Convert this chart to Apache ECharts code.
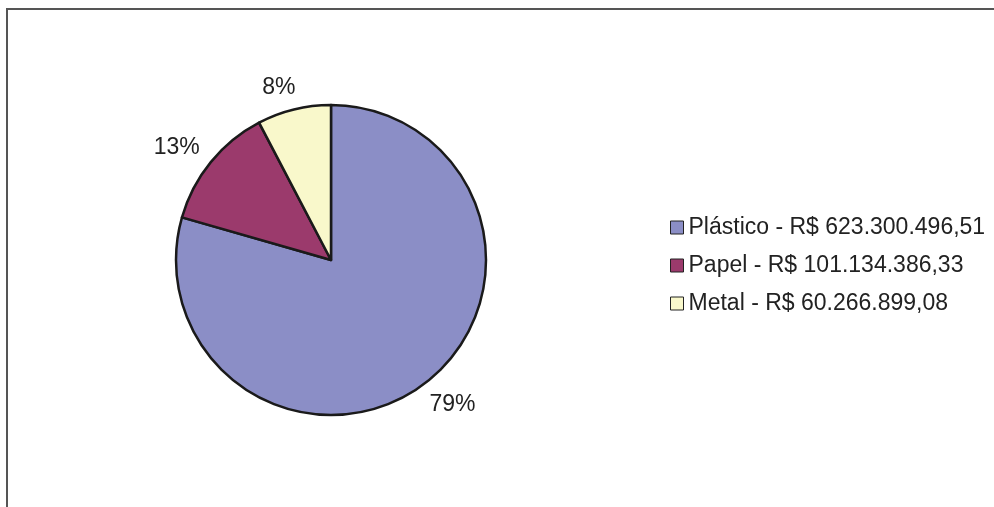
<!DOCTYPE html>
<html>
<head>
<meta charset="utf-8">
<script src="https://cdn.jsdelivr.net/npm/echarts@6/dist/echarts.min.js"></script>
<style>html,body{margin:0;padding:0;background:#fff}#c{width:994px;height:507px}</style>
</head>
<body>
<div id="c"></div>
<script>
const categories = ['Plástico', 'Papel', 'Metal'];
const valueLabels = ['R$ 623.300.496,51', 'R$ 101.134.386,33', 'R$ 60.266.899,08'];
const values = [623300496.51, 101134386.33, 60266899.08];
const colors = ['#8b8ec6', '#9b3a6c', '#f9f8cb'];

const data = categories.map((c, i) => ({ name: c, value: values[i], itemStyle: { color: colors[i] } }));
const labelMap = {};
categories.forEach((c, i) => { labelMap[c] = c + ' - ' + valueLabels[i]; });

const CX = 331, CY = 260, R = 155, GAP = 12.5, ANGLE_SHIFT = -3 * Math.PI / 180;
const total = values.reduce((a, b) => a + b, 0);
const midAngles = [];
(function () { let acc = 0; values.forEach(v => { midAngles.push((acc + v / 2) / total * 2 * Math.PI); acc += v; }); })();

const chart = echarts.init(document.getElementById('c'));
chart.setOption({
  animation: false,
  textStyle: { fontFamily: 'Liberation Sans, Arial, sans-serif' },
  graphic: [{
    type: 'rect', shape: { x: 7, y: 9, width: 1100, height: 700 },
    style: { fill: 'none', stroke: '#555', lineWidth: 2 }, silent: true
  }],
  legend: {
    orient: 'vertical', left: 665, top: 211,
    itemWidth: 13, itemHeight: 13, itemGap: 15,
    icon: 'rect',
    itemStyle: { borderColor: '#222', borderWidth: 1 },
    textStyle: { fontSize: 23, lineHeight: 23, color: '#222', fontFamily: 'Liberation Sans, Arial, sans-serif' },
    formatter: n => labelMap[n],
    data: categories
  },
  series: [{
    type: 'pie', center: [CX, CY], radius: R, startAngle: 90, clockwise: true,
    label: {
      show: true, position: 'inside', fontSize: 23, color: '#222',
      fontFamily: 'Liberation Sans, Arial, sans-serif',
      formatter: p => Math.round(p.percent) + '%'
    },
    labelLine: { show: false },
    labelLayout: function (params) {
      const a = midAngles[params.dataIndex] + ANGLE_SHIFT;
      const s = Math.sin(a), c = Math.cos(a);
      const hw = params.labelRect.width / 2, hh = 8.5;
      const d = R + GAP + hw * Math.abs(s) + hh * Math.abs(c);
      return { x: CX + d * s, y: CY - d * c };
    },
    itemStyle: { borderColor: '#1a1a1a', borderWidth: 2.5 },
    emphasis: { disabled: true },
    data: data
  }]
});
</script>
</body>
</html>
